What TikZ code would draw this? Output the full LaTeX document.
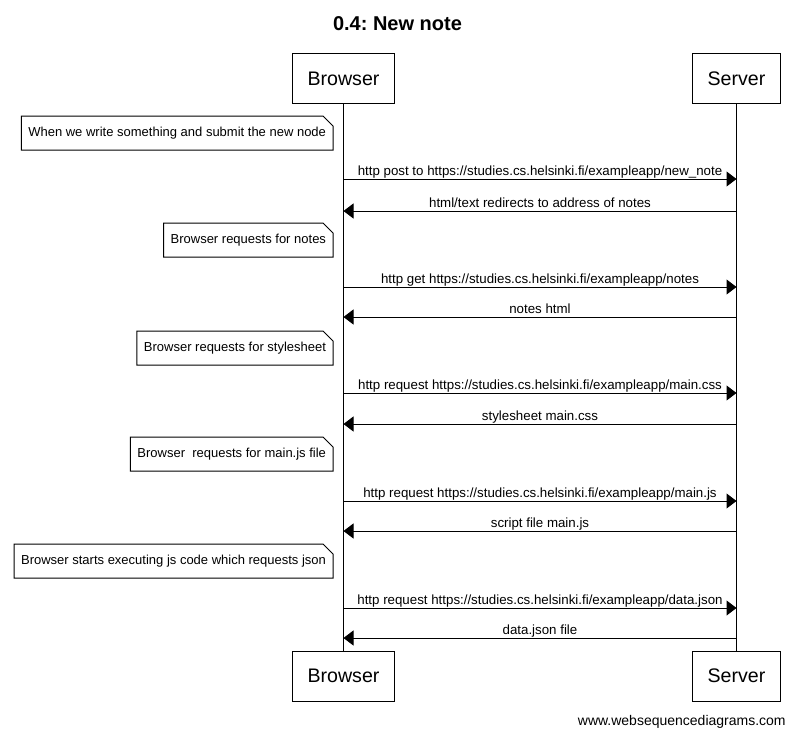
\documentclass[tikz,border=0pt]{standalone}
\usepackage{fontspec}
\setmainfont{Liberation Sans}
\usetikzlibrary{arrows.meta,positioning}
\frenchspacing

\newcommand{\msgfont}{\fontsize{13.3}{16}\selectfont}
\newcommand{\notefont}{\fontsize{13}{16}\selectfont}
\newcommand{\actorfont}{\fontsize{19.6}{23}\selectfont}

\begin{document}
\begin{tikzpicture}[x=1pt,y=-1pt,line width=1pt,>={Triangle[length=10pt,width=15pt]},
  actor/.style={draw,minimum height=50pt,inner xsep=15pt,font=\actorfont},
  msg/.style={->},
  lbl/.style={above,inner sep=0pt,text depth=3pt,font=\msgfont},
  notebox/.style={anchor=north east,inner xsep=6.5pt,minimum height=33pt,font=\notefont,
    append after command={\pgfextra{
      \draw (\tikzlastnode.north west) -- ([xshift=-10pt]\tikzlastnode.north east)
        -- ([yshift=-10pt]\tikzlastnode.north east) -- (\tikzlastnode.south east)
        -- (\tikzlastnode.south west) -- cycle;}}}]
  \useasboundingbox (0,0) rectangle (795,734);

  \node[font=\fontsize{20}{24}\selectfont\bfseries,anchor=base] (title) at (397.5,30) {0.4: New note};

  % participants
  \node[actor] (btop) at (343.5,78.5) {Browser};
  \node[actor] (stop) at (736.5,78.5) {Server};
  \node[actor] (bbot) at (343.5,676) {Browser};
  \node[actor] (sbot) at (736.5,676) {Server};
  \draw (btop) -- (bbot);
  \draw (stop) -- (sbot);

  % notes
  \node[notebox] (n1) at (333,116) {When we write something and submit the new node};
  \node[notebox] (n2) at (333,223) {Browser requests for notes};
  \node[notebox] (n3) at (333,331) {Browser requests for stylesheet};
  \node[notebox] (n4) at (333,437) {Browser\ \ requests for main.js file};
  \node[notebox] (n5) at (333,544) {Browser starts executing js code which requests json};

  % message points on the lifelines
  \foreach \n/\y in {1/179,2/211,3/287,4/317,5/393,6/424,7/501,8/531,9/608,10/638}{
    \coordinate (b\n) at (343.5,\y);
    \coordinate (s\n) at (736.5,\y);
  }

  \draw[msg] (b1) -- node[lbl] {http post to https://studies.cs.helsinki.fi/exampleapp/new\_note} (s1);
  \draw[msg] (s2) -- node[lbl] {html/text redirects to address of notes} (b2);
  \draw[msg] (b3) -- node[lbl] {http get https://studies.cs.helsinki.fi/exampleapp/notes} (s3);
  \draw[msg] (s4) -- node[lbl] {notes html} (b4);
  \draw[msg] (b5) -- node[lbl] {http request https://studies.cs.helsinki.fi/exampleapp/main.css} (s5);
  \draw[msg] (s6) -- node[lbl] {stylesheet main.css} (b6);
  \draw[msg] (b7) -- node[lbl] {http request https://studies.cs.helsinki.fi/exampleapp/main.js} (s7);
  \draw[msg] (s8) -- node[lbl] {script file main.js} (b8);
  \draw[msg] (b9) -- node[lbl] {http request https://studies.cs.helsinki.fi/exampleapp/data.json} (s9);
  \draw[msg] (s10) -- node[lbl] {data.json file} (b10);

  \node[font=\fontsize{14}{17}\selectfont,anchor=base east] (wsd) at (789.5,725) {www.websequencediagrams.com};
\end{tikzpicture}
\end{document}
